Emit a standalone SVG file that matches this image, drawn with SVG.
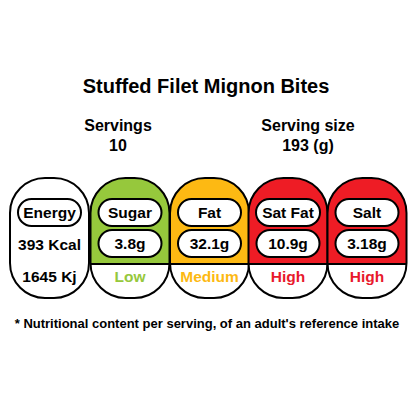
<svg xmlns="http://www.w3.org/2000/svg" width="414" height="414" viewBox="0 0 414 414">
<defs>
<style>
.t{font-family:"Liberation Sans",Arial,sans-serif;font-weight:bold;fill:#000;text-anchor:middle}
.title{font-size:20px}
.hd{font-size:16px}
.lb{font-size:15.5px}
.foot{font-size:13px}
.col{stroke:#000;stroke-width:2;fill:none}
.bg{fill:#fff}
.pill{fill:#fff;stroke:#000;stroke-width:2}
.sep{stroke:#000;stroke-width:2}
</style>
<clipPath id="c2"><rect x="90.5" y="178" width="79" height="120" rx="35"/></clipPath>
<clipPath id="c3"><rect x="170" y="178" width="79" height="120" rx="35"/></clipPath>
<clipPath id="c4"><rect x="248.5" y="178" width="79" height="120" rx="35"/></clipPath>
<clipPath id="c5"><rect x="327.5" y="178" width="79" height="120" rx="35"/></clipPath>
</defs>
<rect width="414" height="414" fill="#fff"/>
<g id="header">
<text class="t title" x="206" y="93">Stuffed Filet Mignon Bites</text>
<text class="t hd" x="118" y="131">Servings</text>
<text class="t hd" x="118" y="151">10</text>
<text class="t hd" x="308" y="131">Serving size</text>
<text class="t hd" x="308" y="151">193 (g)</text>
</g>
<g id="energy">
<rect class="bg" x="10" y="178" width="79" height="120" rx="35"/>
<rect class="col" x="10" y="178" width="79" height="120" rx="35"/>
<rect class="pill" x="18" y="199" width="63" height="27" rx="13.5"/>
<text class="t lb" x="49.5" y="218">Energy</text>
<text class="t lb" x="49.5" y="250">393 Kcal</text>
<text class="t lb" x="49.5" y="282">1645 Kj</text>
</g>
<g id="sugar">
<rect class="bg" x="90.5" y="178" width="79" height="120" rx="35"/>
<g clip-path="url(#c2)"><rect x="90" y="170" width="80" height="94" fill="#96c83c"/><line class="sep" x1="90" y1="264" x2="170" y2="264"/></g>
<rect class="col" x="90.5" y="178" width="79" height="120" rx="35"/>
<rect class="pill" x="98.5" y="199" width="63" height="27" rx="13.5"/>
<text class="t lb" x="130" y="218">Sugar</text>
<rect class="pill" x="98.5" y="230" width="63" height="27" rx="13.5"/>
<text class="t lb" x="130" y="249">3.8g</text>
<text class="t lb" x="130" y="282" style="fill:#96c83c">Low</text>
</g>
<g id="fat">
<rect class="bg" x="170" y="178" width="79" height="120" rx="35"/>
<g clip-path="url(#c3)"><rect x="169" y="170" width="81" height="94" fill="#fdb913"/><line class="sep" x1="169" y1="264" x2="250" y2="264"/></g>
<rect class="col" x="170" y="178" width="79" height="120" rx="35"/>
<rect class="pill" x="178" y="199" width="63" height="27" rx="13.5"/>
<text class="t lb" x="209.5" y="218">Fat</text>
<rect class="pill" x="178" y="230" width="63" height="27" rx="13.5"/>
<text class="t lb" x="209.5" y="249">32.1g</text>
<text class="t lb" x="209.5" y="282" style="fill:#fdb913">Medium</text>
</g>
<g id="satfat">
<rect class="bg" x="248.5" y="178" width="79" height="120" rx="35"/>
<g clip-path="url(#c4)"><rect x="248" y="170" width="80" height="94" fill="#ee1c25"/><line class="sep" x1="248" y1="264" x2="328" y2="264"/></g>
<rect class="col" x="248.5" y="178" width="79" height="120" rx="35"/>
<rect class="pill" x="256" y="199" width="64" height="27" rx="13.5"/>
<text class="t lb" x="288" y="218">Sat Fat</text>
<rect class="pill" x="256.5" y="230" width="63" height="27" rx="13.5"/>
<text class="t lb" x="288" y="249">10.9g</text>
<text class="t lb" x="288" y="282" style="fill:#e8192c">High</text>
</g>
<g id="salt">
<rect class="bg" x="327.5" y="178" width="79" height="120" rx="35"/>
<g clip-path="url(#c5)"><rect x="327" y="170" width="80" height="94" fill="#ee1c25"/><line class="sep" x1="327" y1="264" x2="407" y2="264"/></g>
<rect class="col" x="327.5" y="178" width="79" height="120" rx="35"/>
<rect class="pill" x="335.5" y="199" width="63" height="27" rx="13.5"/>
<text class="t lb" x="367" y="218">Salt</text>
<rect class="pill" x="335.5" y="230" width="63" height="27" rx="13.5"/>
<text class="t lb" x="367" y="249">3.18g</text>
<text class="t lb" x="367" y="282" style="fill:#e8192c">High</text>
</g>
<g id="connectors"></g>
<text class="t foot" x="207" y="328">* Nutritional content per serving, of an adult's reference intake</text>
</svg>
